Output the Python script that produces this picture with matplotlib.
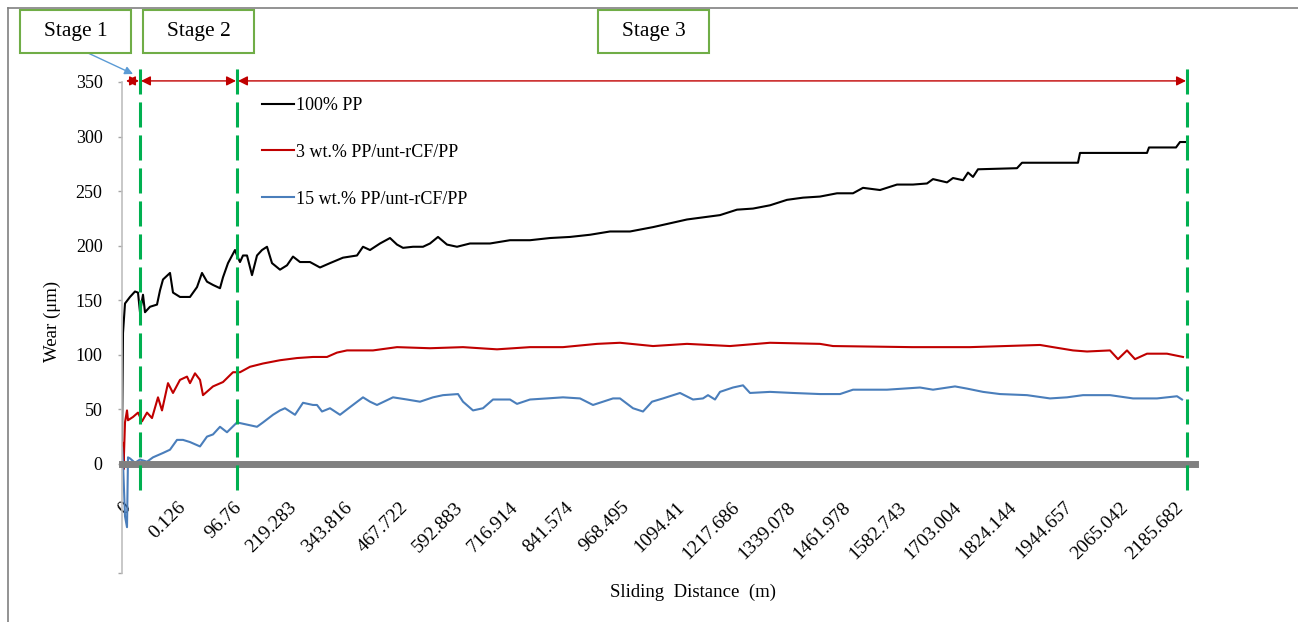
import numpy as np
import matplotlib
matplotlib.use("Agg")
import matplotlib.pyplot as plt
from matplotlib.patches import Rectangle
from matplotlib.lines import Line2D

plt.rcParams['font.family'] = ['Liberation Serif', 'DejaVu Serif']

# x = sample position along the category axis, y = wear (um)
pos_pp = [0, 1, 3, 8, 13, 16, 18, 21, 23, 28, 35, 38, 41, 48, 51, 58, 68, 75, 80, 85, 91, 98,
          101, 106, 113, 115, 118, 121, 125, 130, 135, 140, 145, 150, 158, 165, 171, 178, 188,
          198, 208, 221, 235, 241, 248, 258, 268, 275, 281, 291, 301, 308, 316, 325, 335, 348,
          368, 388, 408, 428, 448, 468, 488, 508, 531, 565, 598, 615, 631, 648, 665, 681, 698,
          715, 731, 741, 758, 775, 791, 805, 811, 825, 831, 841, 846, 851, 856, 895, 900, 956,
          958, 1025, 1027, 1054, 1058, 1063]
wear_pp = [20, 120, 147, 153, 158, 157, 139, 155, 139, 144, 146, 159, 169, 175, 157, 153, 153, 162,
           175, 167, 164, 161, 171, 184, 196, 191, 185, 191, 191, 173, 191, 196, 199, 184, 178,
           182, 190, 185, 185, 180, 184, 189, 191, 199, 196, 202, 207, 201, 198, 199, 199, 202,
           208, 201, 199, 202, 202, 205, 205, 207, 208, 210, 213, 213, 217, 224, 228, 233, 234,
           237, 242, 244, 245, 248, 248, 253, 251, 256, 256, 257, 261, 258, 262, 260, 267, 263,
           270, 271, 276, 276, 285, 285, 290, 290, 295, 295]

pos_3 = [0, 1, 1.5, 3, 5, 6, 11, 16, 20, 25, 30, 36, 40, 46, 51, 58, 65, 68, 73, 78, 81, 91,
         101, 111, 118, 128, 141, 158, 175, 191, 205, 215, 225, 251, 275, 308, 341, 375, 408,
         441, 475, 498, 531, 565, 608, 648, 698, 711, 790, 848, 918, 931, 951, 965, 988, 996,
         1005, 1013, 1025, 1045, 1061]
wear_3 = [20, 19, -5, 38, 49, 40, 43, 47, 39, 47, 42, 61, 49, 74, 65, 77, 80, 74, 83, 77, 63, 71,
          75, 84, 84, 89, 92, 95, 97, 98, 98, 102, 104, 104, 107, 106, 107, 105, 107, 107, 110,
          111, 108, 110, 108, 111, 110, 108, 107, 107, 109, 107, 104, 103, 104, 96, 104, 96, 101,
          101, 98]

pos_15 = [0, 1, 3, 5, 6, 8, 13, 18, 25, 31, 41, 48, 55, 61, 68, 78, 85, 91, 98, 105, 115, 125,
          135, 141, 151, 158, 163, 173, 181, 191, 195, 200, 208, 218, 228, 241, 248, 255, 271,
          285, 298, 311, 321, 336, 341, 351, 361, 371, 388, 395, 408, 425, 441, 458, 471, 491,
          498, 511, 521, 530, 541, 558, 571, 581, 586, 593, 598, 611, 621, 628, 648, 671, 698,
          718, 731, 765, 798, 811, 833, 845, 861, 878, 905, 928, 945, 961, 988, 1011, 1035,
          1055, 1060]
wear_15 = [15, 1, -48, -58, 6, 5, 1, 4, 2, 6, 10, 13, 22, 22, 20, 16, 25, 27, 34, 29, 38, 36, 34,
           38, 45, 49, 51, 45, 56, 54, 54, 48, 51, 45, 52, 61, 57, 54, 61, 59, 57, 61, 63, 64,
           57, 49, 51, 59, 59, 55, 59, 60, 61, 60, 54, 60, 60, 51, 48, 57, 60, 65, 59, 60, 63,
           59, 66, 70, 72, 65, 66, 65, 64, 64, 68, 68, 70, 68, 71, 69, 66, 64, 63, 60, 61, 63,
           63, 60, 60, 62, 59]

tick_labels = ['0', '0.126', '96.76', '219.283', '343.816', '467.722', '592.883', '716.914',
               '841.574', '968.495', '1094.41', '1217.686', '1339.078', '1461.978', '1582.743',
               '1703.004', '1824.144', '1944.657', '2065.042', '2185.682']
stage_bounds = [3, 18, 115, 1065]
stage_names = ['Stage 1', 'Stage 2', 'Stage 3']

W, H = 1298, 622
fig = plt.figure(figsize=(W / 100, H / 100), dpi=100)
ax = fig.add_axes([122 / W, 1 - 573 / H, 1073 / W, 491 / H])

ax.plot(pos_pp, wear_pp, color='black', lw=1.5, label='100% PP')
ax.plot(pos_3, wear_3, color='#c00000', lw=1.5, label='3 wt.% PP/unt-rCF/PP')
ax.plot(pos_15, wear_15, color='#4a7ebb', lw=1.5, label='15 wt.% PP/unt-rCF/PP')

for s in ['top', 'right']:
    ax.spines[s].set_visible(False)
ax.spines['left'].set_color('#bfbfbf')
ax.spines['left'].set_linewidth(1.2)
ax.spines['bottom'].set_position(('data', 0))
ax.spines['bottom'].set_color('#808080')
ax.spines['bottom'].set_linewidth(5)

ax.set_xlim(0, 1073)
ax.set_ylim(-100, 350)
ax.set_yticks([-100, 0, 50, 100, 150, 200, 250, 300, 350])
ax.set_yticklabels(['', '0', '50', '100', '150', '200', '250', '300', '350'], fontsize=13)
ax.tick_params(axis='y', color='#a6a6a6', length=3, width=1, pad=11)

ax.set_xticks(np.arange(len(tick_labels)) * 55.4)
ax.set_xticklabels(tick_labels, rotation=45, ha='right', va='top', rotation_mode='anchor',
                   fontsize=14)
ax.tick_params(axis='x', length=0, pad=25)

# stage divider lines
for xb in stage_bounds[1:]:
    ax.axvline(xb, ymin=(-24 + 100) / 450, ymax=(363 + 100) / 450, color='#00b050', lw=2.2,
               dashes=(8.2, 2.6), clip_on=False, zorder=5)

# stage arrows
for x1, x2 in zip(stage_bounds[:-1], stage_bounds[1:]):
    ax.annotate('', xy=(x2 - 1, 351), xytext=(x1 + 1, 351), annotation_clip=False,
                arrowprops=dict(arrowstyle='<|-|>', color='#c00000', lw=1, mutation_scale=14,
                                shrinkA=0, shrinkB=0))

ax.legend(loc='upper left', bbox_to_anchor=(262 / W, 1 - 97 / H), bbox_transform=fig.transFigure,
          frameon=False, fontsize=13, handlelength=1.75, handletextpad=0.15, labelspacing=1.65,
          borderpad=0, borderaxespad=0)

fig.text(52 / W, 1 - 321 / H, 'Wear (μm)', rotation=90, ha='center', va='center', fontsize=13.5)
fig.text(693 / W, 1 - 592 / H, 'Sliding  Distance  (m)', ha='center', va='center', fontsize=13.5)

# stage boxes
box_left = [20, 143, 598]
for name, xl in zip(stage_names, box_left):
    fig.patches.append(Rectangle((xl / W, 1 - 53 / H), 111 / W, 43 / H, transform=fig.transFigure,
                                 facecolor='white', edgecolor='#70ad47', lw=1.5))
    fig.text((xl + 55.5) / W, 1 - 31.5 / H, name, ha='center', va='center', fontsize=15.5)

ax.annotate('', xy=(133 / W, 1 - 74 / H), xytext=(88 / W, 1 - 53 / H),
            xycoords='figure fraction', textcoords='figure fraction', annotation_clip=False,
            arrowprops=dict(arrowstyle='-|>', color='#5b9bd5', lw=1, mutation_scale=12,
                            shrinkA=0, shrinkB=0))

# outer frame
fig.lines.append(Line2D([8 / W, 1], [1 - 8 / H, 1 - 8 / H], transform=fig.transFigure,
                        color='#808080', lw=1.2))
fig.lines.append(Line2D([8 / W, 8 / W], [0, 1 - 8 / H], transform=fig.transFigure,
                        color='#808080', lw=1.2))

fig.savefig('out.png', dpi=100)
